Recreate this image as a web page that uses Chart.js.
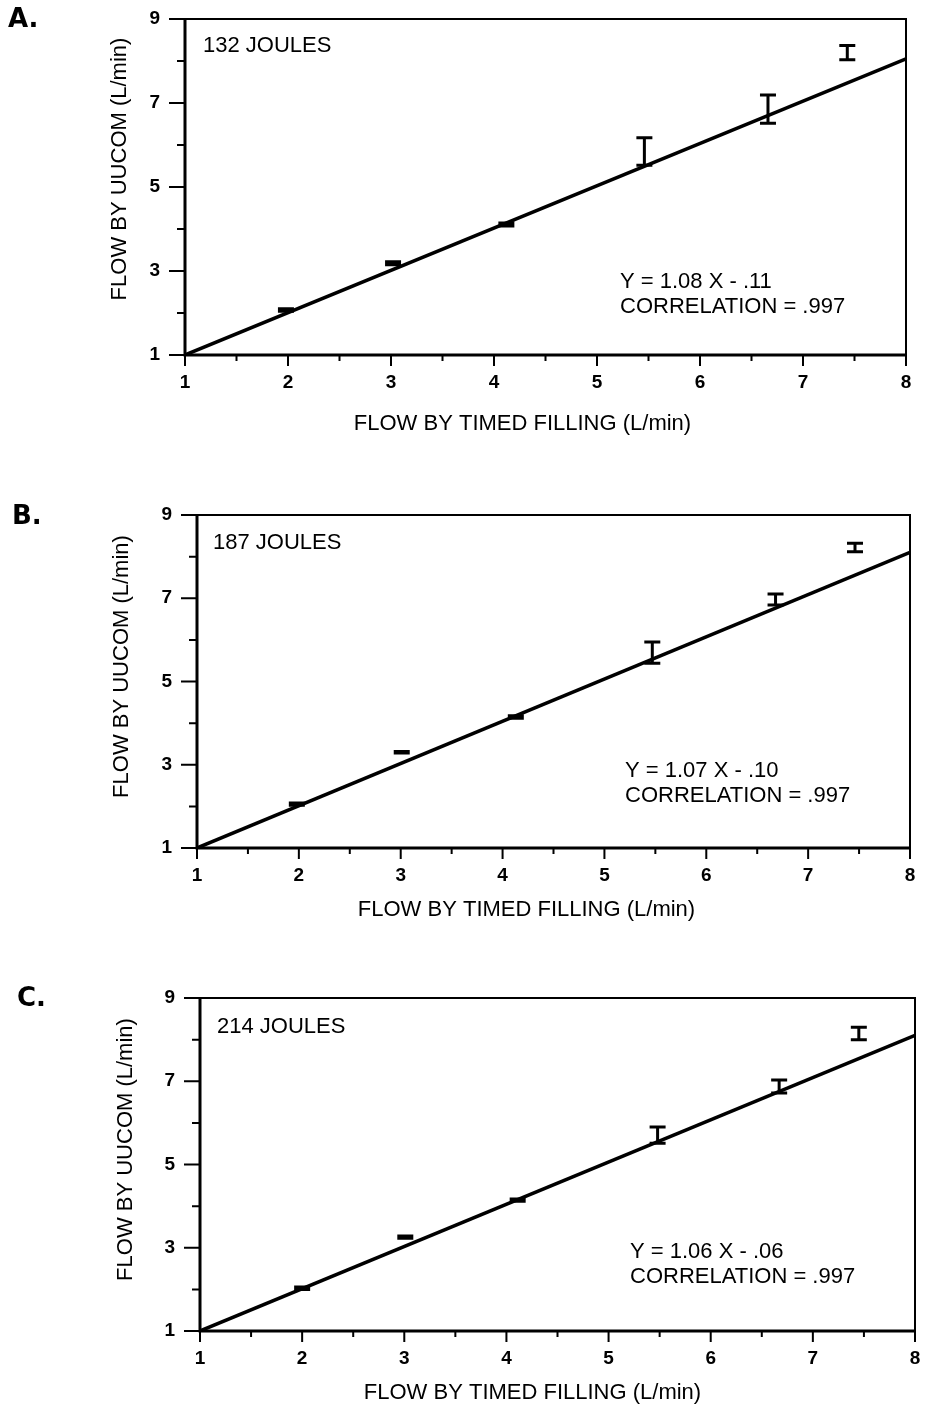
<!DOCTYPE html>
<html>
<head>
    <title>UUCOM flow vs timed filling</title>
    <script src="https://cdn.jsdelivr.net/npm/chart.js"></script>
    <style>
        body { margin: 0; background: #fff; overflow: hidden; }
        #wrap { position: relative; width: 926px; height: 1406px; overflow: hidden; }
        canvas { position: absolute; left: 0; }
    </style>
</head>
<body>
<div id="wrap">
    <canvas id="chartA" width="926" height="470" style="top:0px"></canvas>
    <canvas id="chartB" width="926" height="480" style="top:470px"></canvas>
    <canvas id="chartC" width="926" height="456" style="top:950px"></canvas>
</div>

<script>
    // axis ticks
    const xTickValues = [1, 2, 3, 4, 5, 6, 7, 8];
    const yTickValues = [1, 3, 5, 7, 9];

    // panel labels
    const panelLetters = ['A.', 'B.', 'C.'];
    const energyLabels = ['132 JOULES', '187 JOULES', '214 JOULES'];
    const equationLabels = ['Y = 1.08 X - .11', 'Y = 1.07 X - .10', 'Y = 1.06 X - .06'];
    const correlationLabels = ['CORRELATION = .997', 'CORRELATION = .997', 'CORRELATION = .997'];
    const xTitle = 'FLOW BY TIMED FILLING (L/min)';
    const yTitle = 'FLOW BY UUCOM (L/min)';

    // A. 132 joules : timed filling flow, UUCOM low / high of error bar
    const timedA = [1.98, 3.02, 4.12, 5.46, 6.66, 7.43];
    const lowA   = [2.04, 3.15, 4.07, 5.52, 6.52, 8.03];
    const highA  = [2.10, 3.22, 4.14, 6.17, 7.19, 8.37];
    const fitXA  = [1, 8];
    const fitYA  = [1, 8.05];

    // B. 187 joules
    const timedB = [1.98, 3.01, 4.13, 5.47, 6.68, 7.46];
    const lowB   = [2.03, 3.28, 4.12, 5.44, 6.84, 8.12];
    const highB  = [2.08, 3.32, 4.18, 5.95, 7.10, 8.32];
    const fitXB  = [1, 8];
    const fitYB  = [1, 8.1];

    // C. 214 joules
    const timedC = [2.00, 3.01, 4.11, 5.48, 6.67, 7.45];
    const lowC   = [2.00, 3.23, 4.12, 5.51, 6.72, 8.00];
    const highC  = [2.06, 3.28, 4.17, 5.90, 7.03, 8.30];
    const fitXC  = [1, 8];
    const fitYC  = [1, 8.1];

    const FONT = '"Liberation Sans", Arial, sans-serif';

    // error bars, box, tick marks and texts
    const decorPlugin = {
        id: 'decor',
        afterDatasetsDraw(chart) {
            const ctx = chart.ctx;
            const xs = chart.scales.x, ys = chart.scales.y;
            const p = chart.options.plugins.decor;
            const a = chart.chartArea;

            ctx.save();
            ctx.strokeStyle = '#000';
            ctx.fillStyle = '#000';

            // error bars
            p.timed.forEach((t, i) => {
                const px = xs.getPixelForValue(t);
                const y1 = ys.getPixelForValue(p.low[i]);
                const y2 = ys.getPixelForValue(p.high[i]);
                ctx.lineWidth = 3;
                ctx.beginPath();
                ctx.moveTo(px, y1); ctx.lineTo(px, y2);
                ctx.moveTo(px - 8, y1); ctx.lineTo(px + 8, y1);
                ctx.moveTo(px - 8, y2); ctx.lineTo(px + 8, y2);
                ctx.stroke();
            });

            // frame
            ctx.lineWidth = 2;
            ctx.strokeRect(a.left, a.top, a.right - a.left, a.bottom - a.top);
            ctx.lineWidth = 3;
            ctx.beginPath();
            ctx.moveTo(a.left, a.top); ctx.lineTo(a.left, a.bottom); ctx.lineTo(a.right, a.bottom);
            ctx.stroke();

            // tick marks
            ctx.lineWidth = 2;
            ctx.beginPath();
            for (let v = 1; v <= 8; v += 0.5) {
                const px = xs.getPixelForValue(v);
                const len = Number.isInteger(v) ? 11 : 6;
                ctx.moveTo(px, a.bottom); ctx.lineTo(px, a.bottom + len);
            }
            for (let v = 1; v <= 9; v += 1) {
                const py = ys.getPixelForValue(v);
                const len = yTickValues.includes(v) ? 16 : 8;
                ctx.moveTo(a.left, py); ctx.lineTo(a.left - len, py);
            }
            ctx.stroke();

            // texts
            ctx.textBaseline = 'middle';
            ctx.textAlign = 'left';
            ctx.font = '900 26px "DejaVu Sans", sans-serif';
            ctx.fillText(p.letter, p.letterPos[0], p.letterPos[1]);

            ctx.font = '22px ' + FONT;
            ctx.fillText(p.energy, a.left + p.energyPos[0], a.top + p.energyPos[1]);
            ctx.fillText(p.equation, a.left + p.eqPos[0], a.bottom + p.eqPos[1]);
            ctx.fillText(p.correlation, a.left + p.eqPos[0], a.bottom + p.eqPos[1] + 25);

            ctx.textAlign = 'center';
            ctx.fillText(xTitle, (a.left + a.right) / 2 + p.xTitleOff[0], a.bottom + p.xTitleOff[1]);

            ctx.translate(p.yTitleOff[0], (a.top + a.bottom) / 2 + p.yTitleOff[1]);
            ctx.rotate(-Math.PI / 2);
            ctx.fillText(yTitle, 0, 0);
            ctx.restore();
        }
    };

    function makeChart(cfg) {
        return new Chart(document.getElementById(cfg.id), {
            type: 'scatter',
            data: {
                datasets: [{
                    type: 'line',
                    data: cfg.fitX.map((x, i) => ({ x: x, y: cfg.fitY[i] })),
                    borderColor: '#000',
                    borderWidth: 3.5,
                    pointRadius: 0,
                    tension: 0
                }]
            },
            options: {
                responsive: false,
                animation: false,
                devicePixelRatio: 1,
                layout: { padding: { top: cfg.padTop, right: cfg.padRight, left: 0, bottom: 0 } },
                plugins: {
                    legend: { display: false },
                    tooltip: { enabled: false },
                    decor: cfg.decor
                },
                scales: {
                    x: {
                        type: 'linear', min: 1, max: 8,
                        afterBuildTicks: (s) => { s.ticks = xTickValues.map(v => ({ value: v })); },
                        afterFit: (s) => { s.height = cfg.xH; s.paddingLeft = 0; s.paddingRight = 0; },
                        ticks: {
                            autoSkip: false, maxRotation: 0, padding: 16,
                            color: '#000', font: { family: FONT, size: 19, weight: 'bold' },
                            callback: (v) => String(v)
                        },
                        grid: { display: false, drawTicks: false },
                        border: { display: false }
                    },
                    y: {
                        type: 'linear', min: 1, max: 9,
                        afterBuildTicks: (s) => { s.ticks = yTickValues.map(v => ({ value: v })); },
                        afterFit: (s) => { s.width = cfg.yW; s.paddingTop = 0; s.paddingBottom = 0; },
                        ticks: {
                            autoSkip: false, padding: 25,
                            color: '#000', font: { family: FONT, size: 19, weight: 'bold' },
                            callback: (v) => String(v)
                        },
                        grid: { display: false, drawTicks: false },
                        border: { display: false }
                    }
                }
            },
            plugins: [decorPlugin]
        });
    }

    window.onload = () => {
        makeChart({
            id: 'chartA', padTop: 19, padRight: 20, yW: 185, xH: 115,
            fitX: fitXA, fitY: fitYA,
            decor: {
                timed: timedA, low: lowA, high: highA,
                letter: panelLetters[0], letterPos: [8, 20],
                energy: energyLabels[0], energyPos: [18, 27],
                equation: equationLabels[0], correlation: correlationLabels[0], eqPos: [435, -73],
                xTitleOff: [-23, 69], yTitleOff: [120, -18]
            }
        });
        makeChart({
            id: 'chartB', padTop: 45, padRight: 16, yW: 197, xH: 102,
            fitX: fitXB, fitY: fitYB,
            decor: {
                timed: timedB, low: lowB, high: highB,
                letter: panelLetters[1], letterPos: [12, 47],
                energy: energyLabels[1], energyPos: [16, 28],
                equation: equationLabels[1], correlation: correlationLabels[1], eqPos: [428, -77],
                xTitleOff: [-27, 62], yTitleOff: [122, -15]
            }
        });
        makeChart({
            id: 'chartC', padTop: 48, padRight: 11, yW: 200, xH: 75,
            fitX: fitXC, fitY: fitYC,
            decor: {
                timed: timedC, low: lowC, high: highC,
                letter: panelLetters[2], letterPos: [17, 49],
                energy: energyLabels[2], energyPos: [17, 29],
                equation: equationLabels[2], correlation: correlationLabels[2], eqPos: [430, -79],
                xTitleOff: [-25, 62], yTitleOff: [126, -15]
            }
        });
    };
</script>
</body>
</html>
